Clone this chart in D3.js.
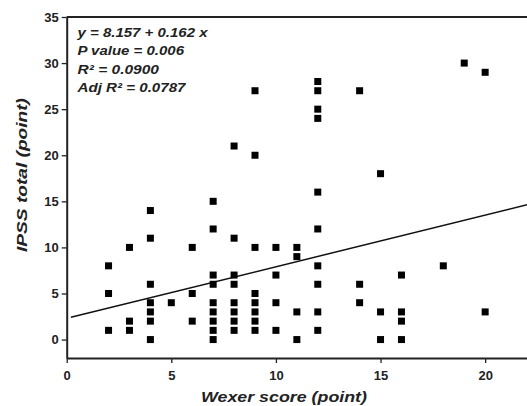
<!DOCTYPE html>
<html>
<head>
<meta charset="utf-8">
<script src="https://cdn.jsdelivr.net/npm/d3@7"></script>
<style>
  body { margin: 0; background: #fff; }
  svg text { font-family: "Liberation Sans", Arial, sans-serif; }
</style>
</head>
<body>
<div id="container"></div>
<script>
// scatter of IPSS total against Wexer score with fitted line

const wexer = [2,2,2, 3,3,3, 4,4,4,4,4,4,4, 5, 6,6,6,
	7,7,7,7,7,7,7,7,7, 8,8,8,8,8,8,8,8, 9,9,9,9,9,9,9,9,
	10,10,10,10, 11,11,11,11, 12,12,12,12,12,12,12,12,12,12,
	14,14,14, 15,15,15, 16,16,16,16, 18, 19, 20,20];
const ipss = [8,5,1, 10,2,1, 14,11,6,4,3,2,0, 4, 10,5,2,
	15,12,7,6,4,3,2,1,0, 21,11,7,6,4,3,2,1, 27,20,10,5,4,3,2,1,
	10,7,4,1, 10,9,3,0, 28,27,25,24,16,12,8,6,3,1,
	27,6,4, 18,3,0, 7,3,2,0, 8, 30, 29,3];

const xTicks = [0, 5, 10, 15, 20];
const yTicks = [0, 5, 10, 15, 20, 25, 30, 35];

// fitted line as drawn in the figure
const lineIntercept = 2.3,
      lineSlope = 0.56,
      lineRange = [0.2, 22];

const statLines = ["y = 8.157 + 0.162 x", "P value = 0.006",
	"R\u00b2 = 0.0900", "Adj R\u00b2 = 0.0787"];
const statWidths = [130, 106.5, 81.5, 108];

const width = 527, height = 406;
const margin = {top: 17, right: 0, bottom: 48, left: 66.7};

const svg = d3.select("#container").append("svg")
	.attr("width", width)
	.attr("height", height);

const x = d3.scaleLinear()
	.domain([0, 22])
	.range([margin.left, width - margin.right]);

const y = d3.scaleLinear()
	.domain([-2, 35])
	.range([height - margin.bottom, margin.top]);

// axes
const xAxis = svg.append("g")
	.attr("transform", "translate(0," + y(-2) + ")")
	.call(d3.axisBottom(x).tickValues(xTicks).tickSize(5).tickSizeOuter(0));

const yAxis = svg.append("g")
	.attr("transform", "translate(" + x(0) + ",0)")
	.call(d3.axisLeft(y).tickValues(yTicks).tickSize(5).tickSizeOuter(0));

[xAxis, yAxis].forEach(function(a){
	a.select(".domain").attr("stroke", "#222").attr("stroke-width", 2);
	a.selectAll(".tick line").attr("stroke", "#222").attr("stroke-width", 1.3);
	a.selectAll(".tick text")
		.attr("fill", "#222")
		.style("font-size", "13px")
		.style("font-weight", "bold");
});
xAxis.selectAll(".tick text").attr("dy", "1.1em");
yAxis.selectAll(".tick text").attr("x", -8);

// top frame line
svg.append("line")
	.attr("x1", x(0)).attr("x2", x(22))
	.attr("y1", y(35)).attr("y2", y(35))
	.attr("stroke", "#222")
	.attr("stroke-width", 2);

// fitted line
svg.append("line")
	.attr("x1", x(lineRange[0]))
	.attr("y1", y(lineIntercept + lineSlope * lineRange[0]))
	.attr("x2", x(lineRange[1]))
	.attr("y2", y(lineIntercept + lineSlope * lineRange[1]))
	.attr("stroke", "#111")
	.attr("stroke-width", 1.5);

// points
const s = 7;
svg.append("g").selectAll("rect")
	.data(d3.range(wexer.length))
	.enter()
	.append("rect")
	.attr("x", i => x(wexer[i]) - s / 2)
	.attr("y", i => y(ipss[i]) - s / 2)
	.attr("width", s)
	.attr("height", s)
	.attr("fill", "#000");

// stats text
svg.append("g").selectAll("text")
	.data(statLines)
	.enter()
	.append("text")
	.attr("x", 77.5)
	.attr("y", (d, i) => 36.8 + i * 18.4)
	.attr("textLength", (d, i) => statWidths[i])
	.attr("lengthAdjust", "spacingAndGlyphs")
	.style("font-size", "13px")
	.style("font-weight", "bold")
	.style("font-style", "italic")
	.attr("fill", "#222")
	.text(d => d);

// axis titles
svg.append("text")
	.attr("x", 284)
	.attr("y", 401.5)
	.attr("text-anchor", "middle")
	.attr("textLength", 166)
	.attr("lengthAdjust", "spacingAndGlyphs")
	.style("font-size", "15px")
	.style("font-weight", "bold")
	.style("font-style", "italic")
	.attr("fill", "#222")
	.text("Wexer score (point)");

svg.append("text")
	.attr("transform", "translate(26.5,175) rotate(-90)")
	.attr("text-anchor", "middle")
	.attr("textLength", 154)
	.attr("lengthAdjust", "spacingAndGlyphs")
	.style("font-size", "15.5px")
	.style("font-weight", "bold")
	.style("font-style", "italic")
	.attr("fill", "#222")
	.text("IPSS total (point)");
</script>
</body>
</html>
